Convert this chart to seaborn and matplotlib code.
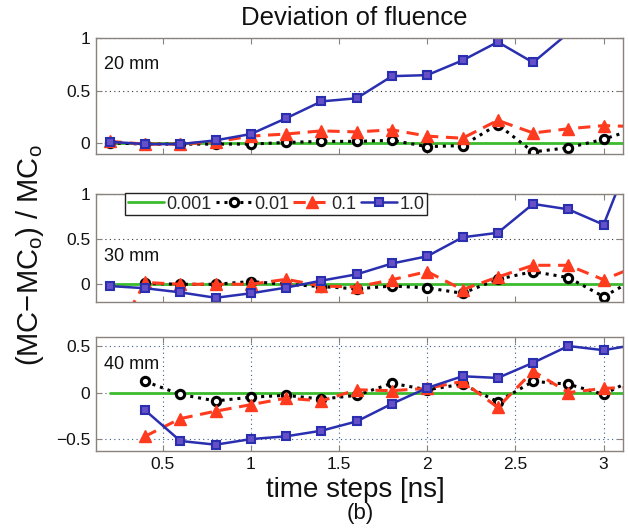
import numpy as np
import pandas as pd
import matplotlib
matplotlib.use("Agg")
import matplotlib.pyplot as plt
import seaborn as sns

# ---------------- data ----------------
t = [0.2, 0.4, 0.6, 0.8, 1.0, 1.2, 1.4, 1.6, 1.8, 2.0, 2.2, 2.4, 2.6, 2.8, 3.0, 3.2]

# 20 mm
p20_g001 = [0.0] * 16
p20_g01 = [0.006, -0.006, -0.006, -0.006, -0.006, 0.01, 0.02, 0.02, 0.03, -0.03, -0.02, 0.18, -0.08, -0.04, 0.04, 0.15]
p20_g1 = [0.02, -0.006, -0.006, 0.016, 0.07, 0.09, 0.12, 0.11, 0.13, 0.07, 0.05, 0.22, 0.10, 0.14, 0.17, 0.16]
p20_g10 = [0.016, -0.006, -0.006, 0.03, 0.09, 0.24, 0.40, 0.43, 0.64, 0.65, 0.79, 0.965, 0.77, 1.05, 1.3, 1.5]

# 30 mm
p30_t01 = t[1:]
p30_g001 = [0.0] * 16
p30_g01 = [0.01, 0.0, 0.0, 0.03, 0.0, -0.026, -0.05, -0.02, -0.04, -0.10, 0.055, 0.14, 0.074, -0.137, 0.08]
p30_g1 = [-0.68, 0.02, 0.0, 0.0, 0.0, 0.055, -0.02, -0.03, 0.05, 0.14, -0.06, 0.08, 0.21, 0.21, 0.05, 0.21]
p30_g10 = [-0.02, -0.044, -0.09, -0.15, -0.10, -0.037, 0.04, 0.11, 0.23, 0.31, 0.52, 0.57, 0.89, 0.83, 0.66, 1.65]

# 40 mm
p40_t = t[1:]
p40_g001 = [0.0] * 16
p40_g01 = [0.12, -0.02, -0.09, -0.05, -0.03, -0.07, -0.03, 0.10, 0.03, 0.09, -0.10, 0.12, 0.09, -0.02, 0.17]
p40_g1 = [-0.47, -0.28, -0.20, -0.13, -0.06, -0.09, 0.03, 0.02, 0.045, 0.12, -0.16, 0.23, 0.0, 0.045, 0.06]
p40_g10 = [-0.19, -0.52, -0.56, -0.50, -0.47, -0.41, -0.31, -0.12, 0.05, 0.175, 0.157, 0.32, 0.50, 0.455, 0.52]

series_names = ["0.001", "0.01", "0.1", "1.0"]
panel_labels = ["20 mm", "30 mm", "40 mm"]
xticks = [0.5, 1, 1.5, 2, 2.5, 3]
xticklabels = ["0.5", "1", "1.5", "2", "2.5", "3"]
yticks_top = [0, 0.5, 1]
yticklabels_top = ["0", "0.5", "1"]
yticks_bot = [-0.5, 0, 0.5]
yticklabels_bot = ["\u22120.5", "0", "0.5"]

# ---------------- style ----------------
sns.set_theme(style="white")
plt.rcParams["font.family"] = ["Liberation Sans", "DejaVu Sans"]
plt.rcParams["mathtext.fontset"] = "custom"
plt.rcParams["mathtext.rm"] = "Liberation Sans"
plt.rcParams["mathtext.it"] = "Liberation Sans"

GREEN = "#3dbb2e"
BLACK = "#000000"
RED = "#ff3b1f"
BLUE = "#2a2fb0"
SPINE = "#8a827c"

styles = [
    dict(color=GREEN, linestyle="-", linewidth=2.0, marker=None),
    dict(color=BLACK, linestyle=(0, (1, 1.6)), linewidth=2.2, marker="o", markersize=6,
         markerfacecolor="white", markeredgecolor=BLACK, markeredgewidth=2.2),
    dict(color=RED, linestyle=(0, (4, 2.5)), linewidth=2.2, marker="^", markersize=8,
         markerfacecolor=RED, markeredgecolor=RED, markeredgewidth=1.0),
    dict(color=BLUE, linestyle="-", linewidth=1.8, marker="s", markersize=5.5,
         markerfacecolor="#6650c8", markeredgecolor=BLUE, markeredgewidth=1.5),
]

fig = plt.figure(figsize=(6.28, 5.32), dpi=100)
W, H = 628, 532
left, right = 95.7, 623
boxes = [(38.3, 154.0), (194.0, 302.3), (336.7, 451.2)]
ylims = [(-0.1, 1.0), (-0.2, 1.0), (-0.63, 0.6)]
label_y = [0.77, 0.42, 0.76]

panels = [
    [(t, p20_g001), (t, p20_g01), (t, p20_g1), (t, p20_g10)],
    [(t, p30_g001), (p30_t01, p30_g01), (t, p30_g1), (t, p30_g10)],
    [(t, p40_g001), (p40_t, p40_g01), (p40_t, p40_g1), (p40_t, p40_g10)],
]

axes = []
for i, ((top, bot), ylim, series) in enumerate(zip(boxes, ylims, panels)):
    ax = fig.add_axes([left / W, 1 - bot / H, (right - left) / W, (bot - top) / H])
    axes.append(ax)
    for (xs, ys), st, name in zip(series, styles, series_names):
        df = pd.DataFrame({"t": xs, "v": ys})
        sns.lineplot(data=df, x="t", y="v", ax=ax, label=name, sort=False,
                     estimator=None, clip_on=True, **st)
    ax.set_xlim(0.12, 3.11)
    ax.set_ylim(*ylim)
    ax.set_xticks(xticks)
    if i < 2:
        ax.set_yticks(yticks_top)
        ax.set_yticklabels(yticklabels_top)
        ax.set_xticklabels([])
        ax.grid(True, axis="y", linestyle=(0, (1, 3)), color="#333333", linewidth=0.8)
        ax.grid(False, axis="x")
    else:
        ax.set_yticks(yticks_bot)
        ax.set_yticklabels(yticklabels_bot)
        ax.set_xticklabels(xticklabels)
        ax.grid(True, axis="both", linestyle=(0, (1, 3)), color="#3a5a8a", linewidth=0.8)
    ax.set_axisbelow(True)
    ax.set_xlabel("")
    ax.set_ylabel("")
    for s in ax.spines.values():
        s.set_visible(True)
        s.set_color(SPINE)
        s.set_linewidth(1.0)
    ax.tick_params(direction="in", length=4, width=0.8, color=SPINE,
                   top=True, right=True, bottom=True, left=True,
                   labelsize=12.5, pad=4, labelcolor="#111111")
    ax.text(0.015, label_y[i], panel_labels[i], transform=ax.transAxes,
            fontsize=13, ha="left", va="center", color="#111111")
    if ax.get_legend() is not None:
        ax.get_legend().remove()

# legend in middle panel
h, l = axes[1].get_legend_handles_labels()
leg = fig.legend(h, l, loc="upper left",
                 bbox_to_anchor=(124.8 / W, 1 - 193.0 / H),
                 ncol=4, fontsize=13, frameon=True, fancybox=False,
                 handlelength=2.0, handletextpad=0.12, columnspacing=0.25,
                 borderpad=0.15, borderaxespad=0.0)
leg.get_frame().set_edgecolor("#222222")
leg.get_frame().set_linewidth(1.0)
leg.get_frame().set_facecolor("white")
leg.get_frame().set_alpha(1)

fig.text(354 / W, 1 - 18 / H, "Deviation of fluence", ha="center", va="center",
         fontsize=18.5, color="#111111")
fig.text(355 / W, 1 - 490 / H, "time steps [ns]", ha="center", va="center",
         fontsize=20, color="#111111")
fig.text(360 / W, 1 - 513 / H, "(b)", ha="center", va="center",
         fontsize=16, color="#111111")
fig.text(30 / W, 1 - 255 / H, r"(MC$-$MC$_\mathrm{o}$) / MC$_\mathrm{o}$",
         rotation=90, ha="center", va="center", fontsize=21, color="#111111")

fig.savefig("out.png", dpi=100)
